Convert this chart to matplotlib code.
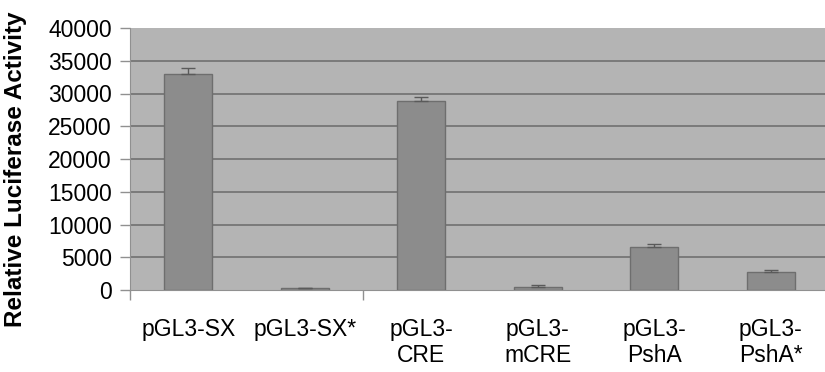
import matplotlib.pyplot as plt
import numpy as np

plt.rcParams['font.family'] = ['Liberation Sans', 'DejaVu Sans']

# data
labels = ['pGL3-SX', 'pGL3-SX*', 'pGL3-\nCRE', 'pGL3-\nmCRE', 'pGL3-\nPshA', 'pGL3-\nPshA*']
activity = [33000, 350, 28800, 400, 6500, 2700]
err_up = [900, 0, 700, 300, 450, 350]

fig = plt.figure(figsize=(8.25, 3.72), dpi=100)
ax = fig.add_axes([130 / 825, 1 - 290 / 372, 695 / 825, 262 / 372])
ax.set_facecolor('#b4b4b4')

x = np.arange(len(labels))
ax.bar(x, activity, width=0.41, color='#8c8c8c', edgecolor='#6e6e6e', linewidth=1, zorder=3)
ax.errorbar(x, activity, yerr=[np.zeros(len(err_up)), err_up], fmt='none',
            ecolor='#5a5a5a', elinewidth=1, capsize=5, capthick=1, zorder=4)

ax.set_ylim(0, 40000)
ax.set_xlim(-0.5, 5.5 - 4 / 116.5)
ax.set_yticks(np.arange(0, 40001, 5000))
for v in range(5000, 40000, 5000):
    ax.axhline(v, color='#707070', linewidth=1.2, zorder=1)

ax.set_xticks(x)
ax.set_xticklabels(labels, fontsize=16.5)
ax.tick_params(axis='x', length=0, pad=20)
ax.set_xticks([-0.5, 1.5], minor=True)
ax.tick_params(axis='x', which='minor', length=7, color='#909090', width=1)
ax.tick_params(axis='y', labelsize=16.5, length=7, color='#909090', width=1, pad=6)

for s in ['top', 'right']:
    ax.spines[s].set_visible(False)
ax.spines['left'].set_color('#909090')
ax.spines['bottom'].set_color('#909090')

ax.set_ylabel('Relative Luciferase Activity', fontsize=17.5, fontweight='bold')
ax.yaxis.set_label_coords(-0.148, 0.46)

fig.savefig('out.png', dpi=100)
